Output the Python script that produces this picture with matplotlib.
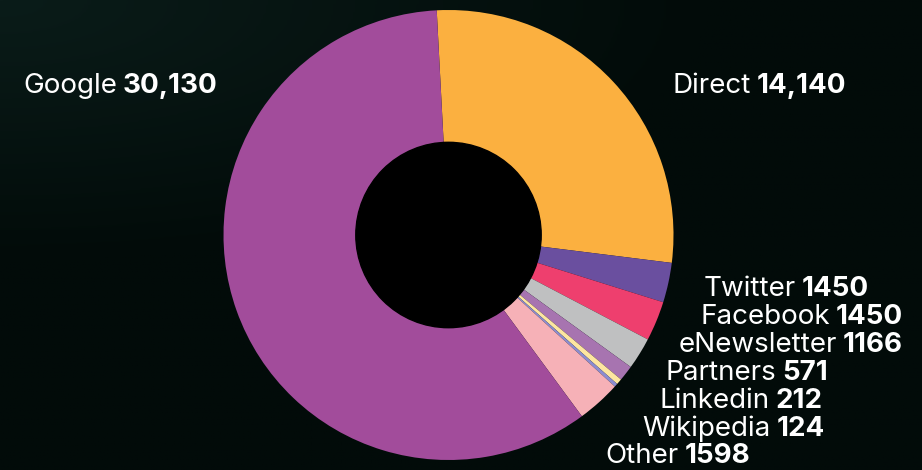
import numpy as np
import matplotlib.pyplot as plt
from matplotlib.patches import Circle
from matplotlib.colors import LinearSegmentedColormap

# traffic sources, clockwise from the top
sources = ['Direct', 'Twitter', 'Facebook', 'eNewsletter', 'Partners',
           'Linkedin', 'Wikipedia', 'Other', 'Google']
visits = [14140, 1450, 1450, 1166, 571, 212, 124, 1598, 30130]
value_text = ['14,140', '1450', '1450', '1166', '571', '212', '124', '1598', '30,130']
colors = ['#fbb040', '#6a4f9f', '#ee3f6e', '#bfc0c1', '#a774b0',
          '#fde6a0', '#8c8cd0', '#f6b1b7', '#a24c9b']

# label spans in pixels (left, right, baseline from top)
label_pos = {
    'Google': (19, 222, 93), 'Direct': (668, 850, 93),
    'Twitter': (700, 873, 296), 'Facebook': (695, 908, 324),
    'eNewsletter': (673, 908, 352), 'Partners': (662, 832, 380),
    'Linkedin': (655, 827, 408), 'Wikipedia': (637, 830, 436),
    'Other': (602, 754, 463),
}

W, H = 922, 470
font = ['Inter', 'DejaVu Sans']
fs = 20

fig = plt.figure(figsize=(W / 100, H / 100), dpi=100)

# dark greenish background
bg = fig.add_axes([0, 0, 1, 1])
bg.axis('off')
yy, xx = np.mgrid[0:1:200j, 0:1:400j]
shade = np.clip(1 - np.hypot(xx * 1.3, yy * 1.8), 0, 1)
cmap = LinearSegmentedColormap.from_list('bg', ['#020b09', '#0a1c19'])
bg.imshow(shade, cmap=cmap, aspect='auto', extent=[0, 1, 0, 1], origin='upper')

# donut
cx, cy, r = 448.5, 235, 225
ax = fig.add_axes([(cx - r) / W, (H - cy - r) / H, 2 * r / W, 2 * r / H])
ax.pie(visits, colors=colors, startangle=93, counterclock=False, radius=1,
       wedgeprops=dict(linewidth=0))
ax.add_patch(Circle((0, 0), 0.412, color='black', zorder=5))
ax.set_xlim(-1, 1)
ax.set_ylim(-1, 1)
ax.set_aspect('equal')
ax.axis('off')

pairs = []
for name, val in zip(sources, value_text):
    x0, x1, y = label_pos[name]
    t = fig.text(x0 / W, 1 - y / H, name, fontsize=fs, color='white',
                 family=font, va='baseline', ha='left')
    a = ax.annotate(val, xy=(1, 0), xycoords=t, xytext=(4, 0), textcoords='offset points',
                    fontsize=fs, color='white', family=font, fontweight='bold',
                    va='bottom', ha='left', annotation_clip=False)
    pairs.append((name, t, a))

# centre each label pair on the span it has in the original
fig.canvas.draw()
rend = fig.canvas.get_renderer()
for name, t, a in pairs:
    x0, x1, y = label_pos[name]
    left = t.get_window_extent(rend).x0
    right = a.get_window_extent(rend).x1
    shift = (x0 + x1) / 2 - (left + right) / 2
    t.set_x((x0 + shift) / W)

fig.savefig('out.png', dpi=100, facecolor='#041210')
